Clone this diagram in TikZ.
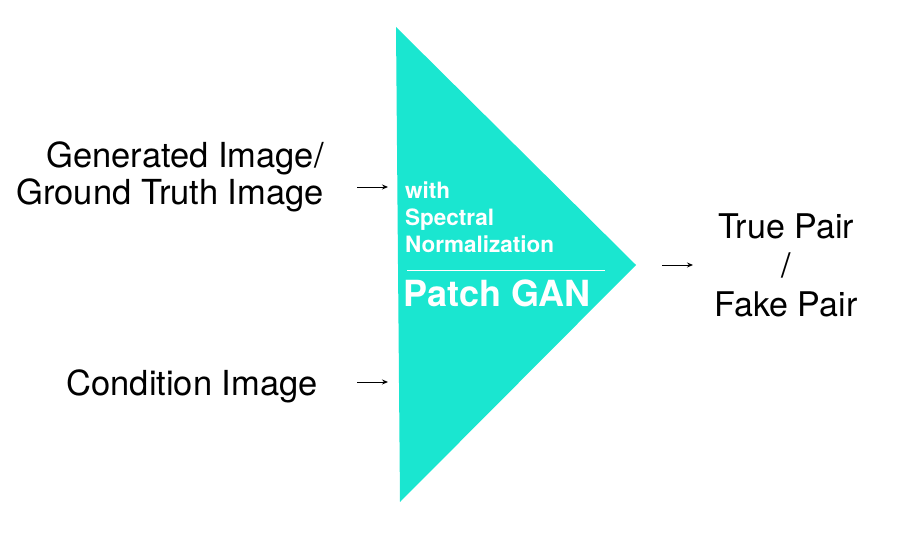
\documentclass[tikz,border=0pt]{standalone}
\usepackage{fontspec}
\setmainfont{TeX Gyre Heros}
\usepackage{tikz}
\usetikzlibrary{arrows.meta}
\definecolor{patchteal}{RGB}{26,230,208}
\tikzset{
  label/.style={font=\fontsize{34.5}{37.5}\selectfont, inner sep=0pt},
  inlabel/.style={font=\bfseries\fontsize{22.5}{27}\selectfont, text=white, inner sep=0pt, align=left},
  feed/.style={-{Stealth[length=6pt,width=5pt]}, line width=0.9pt}
}

\begin{document}
\begin{tikzpicture}[x=1pt, y=1pt]
\useasboundingbox (0,0) rectangle (908,546);
% discriminator
\fill[patchteal] (396,519) -- (636,281) -- (400,44) -- cycle;
\node[inlabel, anchor=west] (spec) at (405,329) {with\\Spectral\\Normalization};
\draw[white, line width=0.8pt] (407,276) -- (605,276);
\node[inlabel, font=\bfseries\fontsize{36}{40}\selectfont, anchor=west] (patch) at (403,253) {Patch GAN};
% inputs and output
\node[label, align=right, anchor=east] (gen) at (324,369) {Generated Image/\\Ground Truth Image};
\node[label, anchor=east] (cond) at (318,160) {Condition Image};
\node[label, font=\fontsize{34}{39}\selectfont, align=center] (out) at (786,281) {True Pair\\/\\Fake Pair};
\coordinate (genA) at (357,359);
\coordinate (genB) at (388,359);
\coordinate (condA) at (357,164);
\coordinate (condB) at (388,164);
\coordinate (outA) at (662,281);
\coordinate (outB) at (693,281);
\draw[feed] (genA) -- (genB);
\draw[feed] (condA) -- (condB);
\draw[feed] (outA) -- (outB);
\end{tikzpicture}
\end{document}
